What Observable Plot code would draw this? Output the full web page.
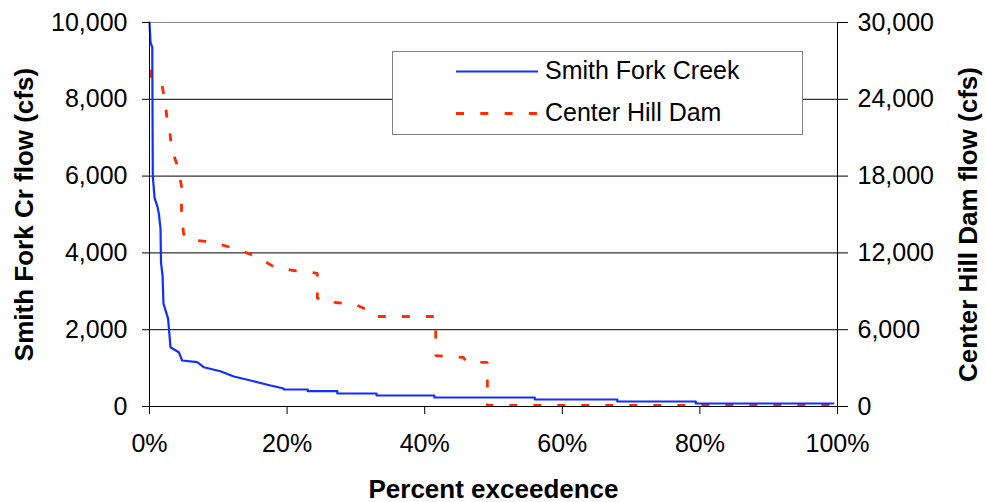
<!DOCTYPE html>
<html>
<head>
<meta charset="utf-8">
<script src="https://cdn.jsdelivr.net/npm/d3@7"></script>
<script src="https://cdn.jsdelivr.net/npm/@observablehq/plot@0.6"></script>
<style>
  html, body { margin: 0; padding: 0; background: #fff; }
  #wrap { position: relative; width: 986px; height: 502px; font-family: "Liberation Sans", Arial, sans-serif; }
  #legend { position: absolute; left: 392px; top: 51px; width: 409px; height: 82px; border: 1px solid #808080; background: #fff; }
</style>
</head>
<body>
<div id="wrap"></div>
<script>
// ---- data ----
const seriesNames = ["Smith Fork Creek", "Center Hill Dam"];
const xTicks = [0, 20, 40, 60, 80, 100];
const leftTicks = [0, 2000, 4000, 6000, 8000, 10000];
const rightTicks = [0, 6000, 12000, 18000, 24000, 30000];
const xTitle = "Percent exceedence";
const leftTitle = "Smith Fork Cr flow (cfs)";
const rightTitle = "Center Hill Dam flow (cfs)";

// Smith Fork Creek (left axis, cfs) vs percent exceedence
const smithPct = [0, 0.15, 0.4, 0.48, 0.73, 1.16, 1.35, 1.6, 1.67, 1.9, 2.03, 2.7, 3.05, 4.26, 4.75, 6.93, 7.89, 10.3, 12.25, 14.7, 17.6, 19.5, 19.5, 23, 23, 27.3, 27.3, 33, 33, 41.4, 41.4, 56, 56, 68, 68, 79.4, 79.4, 99.4];
const smithCfs = [10000, 9480, 9350, 6000, 5440, 5200, 5030, 4640, 3750, 3410, 2680, 2290, 1544, 1414, 1198, 1154, 1023, 919, 781, 677, 547, 470, 443, 443, 398, 398, 339, 339, 286, 286, 234, 234, 182, 182, 130, 130, 78, 78];

// Center Hill Dam (right axis, cfs) vs percent exceedence
const centerPct = [0.15, 0.15, 1.2, 1.8, 2.3, 2.6, 2.9, 3.2, 4.1, 4.65, 4.65, 4.95, 5.3, 7.0, 8.1, 10.3, 12.9, 15.8, 18.0, 20.9, 23.6, 24.4, 24.4, 26.4, 27.0, 29.9, 31.9, 32.7, 41.6, 41.6, 43.3, 45.6, 46.2, 49.1, 49.1, 100];
const centerCfs = [26300, 25500, 25300, 25150, 23700, 22200, 21800, 20150, 18750, 17200, 15300, 13500, 13100, 12970, 12900, 12660, 12270, 11640, 10940, 10625, 10470, 10400, 8440, 8440, 8125, 7970, 7500, 7030, 7030, 3980, 3900, 3830, 3440, 3440, 80, 80];

const blue = "#1030ff";
const red = "#ff2a00";
const ratio = rightTicks[rightTicks.length - 1] / leftTicks[leftTicks.length - 1];

const smith = smithPct.map((p, i) => ({pct: p, cfs: smithCfs[i]}));
const center = centerPct.map((p, i) => ({pct: p, cfs: centerCfs[i]}));

const font = '"Liberation Sans", Arial, sans-serif';
const fmt = d3.format(",");

const chart = Plot.plot({
  width: 986,
  height: 502,
  marginLeft: 149,
  marginRight: 149,
  marginTop: 22,
  marginBottom: 96,
  style: {fontFamily: font, fontSize: "25px", color: "#000", background: "#fff", overflow: "visible"},
  x: {domain: [0, 100]},
  y: {domain: [0, leftTicks[leftTicks.length - 1]]},
  marks: [
    Plot.gridY(leftTicks.slice(1, -1), {stroke: "#000", strokeOpacity: 1, strokeWidth: 1}),
    Plot.ruleY([leftTicks[leftTicks.length - 1]], {stroke: "#8c8c8c", strokeWidth: 1}),
    Plot.line(center, {x: "pct", y: d => d.cfs / ratio, stroke: red, strokeWidth: 2.8, strokeDasharray: "8,16", strokeLinecap: "butt", strokeLinejoin: "miter"}),
    Plot.line(smith, {x: "pct", y: "cfs", stroke: blue, strokeWidth: 2.2}),
    Plot.ruleX([0], {stroke: "#000", strokeWidth: 1}),
    Plot.ruleX([100], {stroke: "#000", strokeWidth: 1}),
    Plot.ruleY([0], {stroke: "#000", strokeWidth: 1}),
    Plot.axisX({ticks: xTicks, tickFormat: d => d + "%", tickSize: 8, tickPadding: 20, label: null, fontSize: 25, stroke: "#000"}),
    Plot.axisY({anchor: "left", ticks: leftTicks, tickFormat: fmt, tickSize: 7, tickPadding: 15, label: null, fontSize: 25, stroke: "#000"}),
    Plot.axisY({anchor: "right", ticks: rightTicks.map(v => v / ratio), tickFormat: d => fmt(Math.round(d * ratio)), tickSize: 10, tickPadding: 10, label: null, fontSize: 25, stroke: "#000"}),
    Plot.text([xTitle], {text: d => d, frameAnchor: "bottom", dy: 91, lineAnchor: "bottom", textAnchor: "middle", fontWeight: "bold", fontSize: 26, fill: "#000"}),
    Plot.text([leftTitle], {text: d => d, frameAnchor: "left", dx: -117, rotate: -90, lineAnchor: "bottom", textAnchor: "middle", fontWeight: "bold", fontSize: 26, fill: "#000"}),
    Plot.text([rightTitle], {text: d => d, frameAnchor: "right", dx: 139, dy: 10, rotate: -90, lineAnchor: "bottom", textAnchor: "middle", fontWeight: "bold", fontSize: 26, fill: "#000"})
  ]
});

const wrap = document.getElementById("wrap");
wrap.appendChild(chart);

// legend
const legend = document.createElement("div");
legend.id = "legend";
const ns = "http://www.w3.org/2000/svg";
const lsvg = document.createElementNS(ns, "svg");
lsvg.setAttribute("width", 409);
lsvg.setAttribute("height", 82);
lsvg.style.position = "absolute";
lsvg.style.left = "0";
lsvg.style.top = "0";
const styles = [
  {stroke: blue, width: 2.2, dash: null},
  {stroke: red, width: 2.8, dash: "8,16.3"}
];
seriesNames.forEach((name, i) => {
  const cy = i === 0 ? 19.5 : 61.5;
  const ln = document.createElementNS(ns, "line");
  ln.setAttribute("x1", 63); ln.setAttribute("x2", 145);
  ln.setAttribute("y1", cy); ln.setAttribute("y2", cy);
  ln.setAttribute("stroke", styles[i].stroke);
  ln.setAttribute("stroke-width", styles[i].width);
  if (styles[i].dash) ln.setAttribute("stroke-dasharray", styles[i].dash);
  lsvg.appendChild(ln);
  const tx = document.createElementNS(ns, "text");
  tx.setAttribute("x", 152);
  tx.setAttribute("y", cy + 7);
  tx.setAttribute("font-size", 25);
  tx.setAttribute("font-family", font);
  tx.setAttribute("fill", "#000");
  tx.textContent = name;
  lsvg.appendChild(tx);
});
legend.appendChild(lsvg);
wrap.appendChild(legend);
</script>
</body>
</html>
